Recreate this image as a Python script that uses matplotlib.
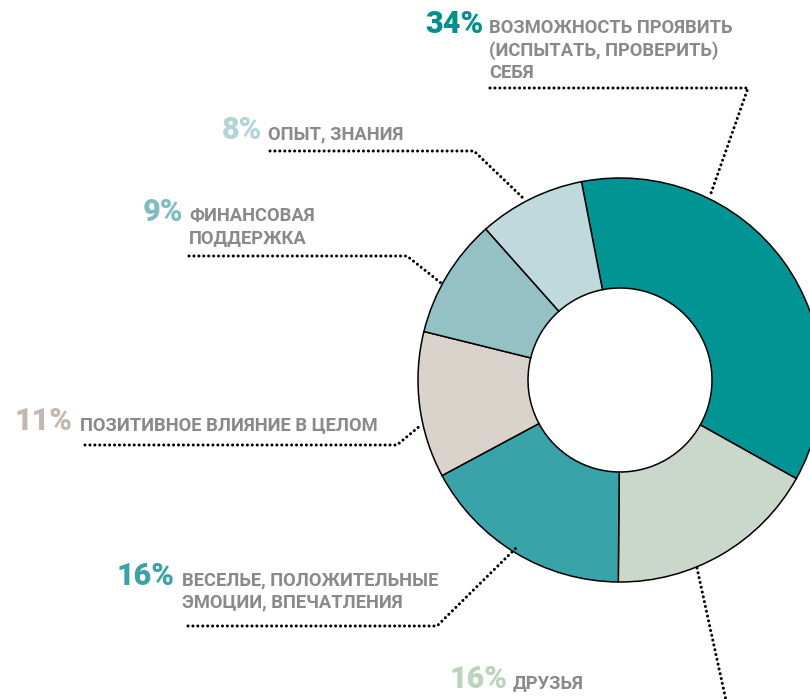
import matplotlib
matplotlib.use('Agg')
import matplotlib.pyplot as plt

# shares (%) from the chart, clockwise from the top
shares = [34, 16, 16, 11, 9, 8]
pct_labels = ['34%', '16%', '16%', '11%', '9%', '8%']
labels = ['ВОЗМОЖНОСТЬ ПРОЯВИТЬ\n(ИСПЫТАТЬ, ПРОВЕРИТЬ)\nСЕБЯ',
          'ДРУЗЬЯ',
          'ВЕСЕЛЬЕ, ПОЛОЖИТЕЛЬНЫЕ\nЭМОЦИИ, ВПЕЧАТЛЕНИЯ',
          'ПОЗИТИВНОЕ ВЛИЯНИЕ В ЦЕЛОМ',
          'ФИНАНСОВАЯ\nПОДДЕРЖКА',
          'ОПЫТ, ЗНАНИЯ']
wedge_colors = ['#009494', '#c9d8ca', '#38a3a8', '#d9d3cc', '#93c1c5', '#bfd9dc']
pct_colors = ['#00918f', '#bcd3bc', '#38a3a8', '#c3b8b1', '#80bdc1', '#b3d5d7']

W, H = 810, 699
fig = plt.figure(figsize=(W / 100, H / 100), dpi=100)
ax = fig.add_axes([0, 0, 1, 1])

cx, cy, R = 620, H - 380, 202
ax.pie(shares, colors=wedge_colors, center=(cx, cy), radius=R,
       startangle=101, counterclock=False,
       wedgeprops=dict(width=110, edgecolor='black', linewidth=1.1))

ax.set_xlim(0, W)
ax.set_ylim(0, H)
ax.set_aspect('equal')
ax.axis('off')

# text anchors (pixel coords from top-left): percent x, label x, baseline y
pos = [(425, 489, 33), (450, 513, 688), (117, 182, 585),
       (15, 80, 430), (143, 189, 221), (222, 268, 139)]
line_gap = 22.5
# leader lines
leaders = [[(490, 88), (748, 88), (710, 196)],
           [(697, 568), (727, 705)],
           [(188, 626), (437, 626), (516, 548)],
           [(85, 445), (397, 445), (421, 425)],
           [(189, 256), (407, 256), (441, 283)],
           [(270, 151), (474, 151), (523, 198)]]

pfont = ['Roboto', 'DejaVu Sans']
for i in range(len(shares)):
    px, lx, by = pos[i]
    ax.text(px, H - by, pct_labels[i], color=pct_colors[i], fontsize=22,
            fontweight='black', family=pfont, va='baseline', ha='left')
    for j, line in enumerate(labels[i].split('\n')):
        ax.text(lx, H - by - j * line_gap, line, color='#8a8a8a',
                fontsize=13.2, fontweight='bold', family=pfont,
                va='baseline', ha='left')
    xs = [p[0] for p in leaders[i]]
    ys = [H - p[1] for p in leaders[i]]
    ax.plot(xs, ys, color='black', linewidth=2.2,
            linestyle=(0, (0.01, 1.6)), dash_capstyle='round',
            solid_capstyle='round')

fig.savefig('out.png', dpi=100)
